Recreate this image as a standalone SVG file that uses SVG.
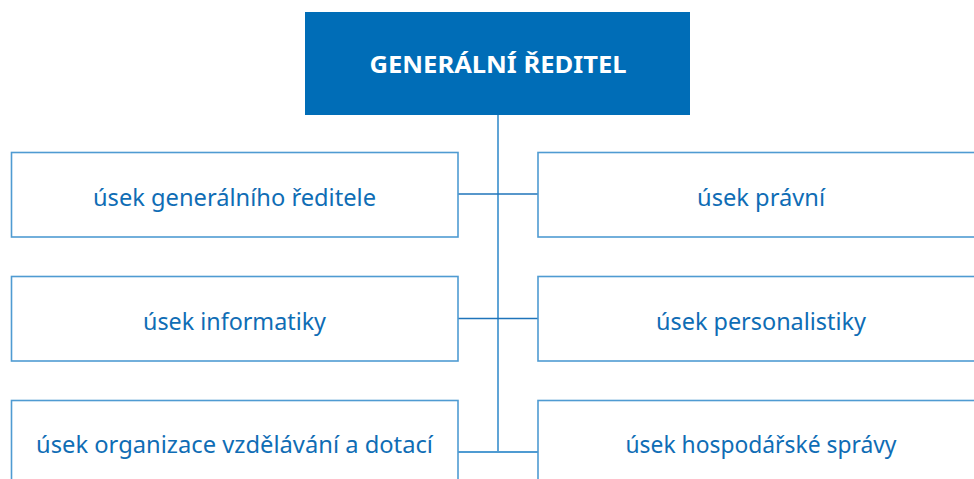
<svg xmlns="http://www.w3.org/2000/svg" width="974" height="479" viewBox="0 0 974 479">
<style>
.box{fill:#ffffff;stroke:#4f9bd2;stroke-width:1.6}
.lbl{font-family:"Noto Sans","Liberation Sans",sans-serif;font-size:23px;fill:#0f6db5;text-anchor:middle}
.title{font-family:"Noto Sans","Liberation Sans",sans-serif;font-size:24px;font-weight:bold;fill:#ffffff;text-anchor:middle}
.con{stroke:#4f9bd2;stroke-width:1.8;fill:none}
.con2{stroke:#1f74ba;stroke-width:1.6;fill:none}
</style>
<rect width="974" height="479" fill="#ffffff"/>
<g id="connectors">
<line class="con" x1="498" y1="115" x2="498" y2="452"/>
<line class="con2" x1="458" y1="194" x2="538" y2="194"/>
<line class="con2" x1="458" y1="318.5" x2="538" y2="318.5"/>
<line class="con" x1="458" y1="452" x2="538" y2="452"/>
</g>
<g id="n0">
<rect x="305" y="12" width="385" height="103" fill="#006db7"/>
<text class="title" x="498" y="73" textLength="257" lengthAdjust="spacingAndGlyphs">GENERÁLNÍ ŘEDITEL</text>
</g>
<g id="n1">
<rect class="box" x="11.5" y="152.5" width="446.5" height="84.5"/>
<text class="lbl" x="234.5" y="206" textLength="283" lengthAdjust="spacingAndGlyphs">úsek generálního ředitele</text>
</g>
<g id="n2">
<rect class="box" x="538" y="152.5" width="440" height="84.5"/>
<text class="lbl" x="761" y="206" textLength="128" lengthAdjust="spacingAndGlyphs">úsek právní</text>
</g>
<g id="n3">
<rect class="box" x="11.5" y="276.5" width="446.5" height="84.5"/>
<text class="lbl" x="234.5" y="330" textLength="183" lengthAdjust="spacingAndGlyphs">úsek informatiky</text>
</g>
<g id="n4">
<rect class="box" x="538" y="276.5" width="440" height="84.5"/>
<text class="lbl" x="761" y="330" textLength="210" lengthAdjust="spacingAndGlyphs">úsek personalistiky</text>
</g>
<g id="n5">
<rect class="box" x="11.5" y="400.5" width="446.5" height="90"/>
<text class="lbl" x="234.5" y="453" textLength="397" lengthAdjust="spacingAndGlyphs">úsek organizace vzdělávání a dotací</text>
</g>
<g id="n6">
<rect class="box" x="538" y="400.5" width="440" height="90"/>
<text class="lbl" x="761" y="453" textLength="271" lengthAdjust="spacingAndGlyphs">úsek hospodářské správy</text>
</g>
</svg>
